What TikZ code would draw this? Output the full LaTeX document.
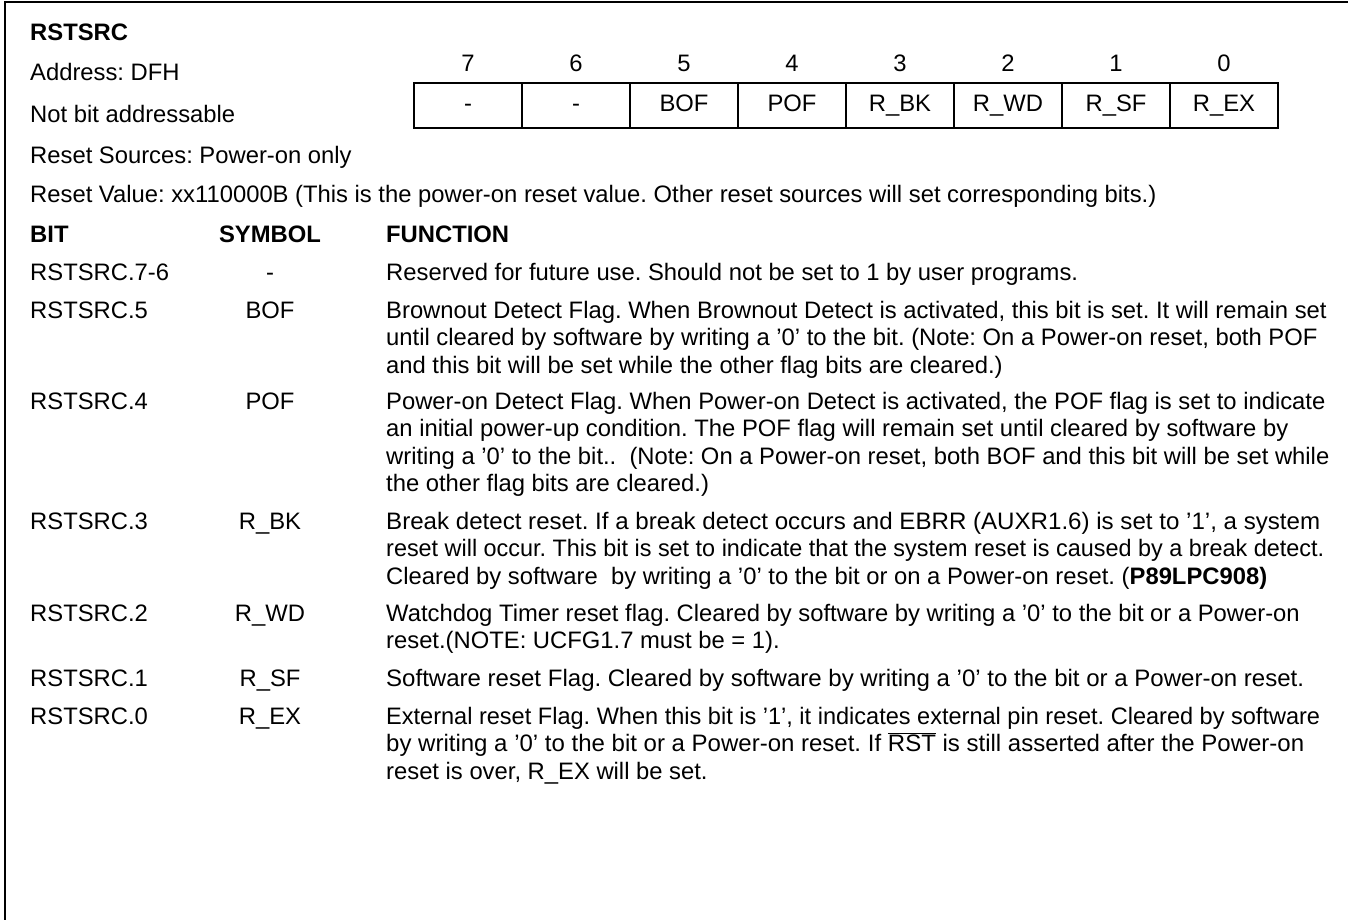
\documentclass[tikz,border=0pt]{standalone}
\usepackage{fontspec}
\usepackage{graphicx}
\setmainfont{Liberation Sans}
\newcommand\rstbar{\ensuremath{\overline{\hbox{RST}}}}
\newsavebox\fitbox
\newcommand\fitto[2]{\sbox\fitbox{#2}\pgfmathsetmacro\fitr{#1/(\wd\fitbox)}\scalebox{\fitr}[1]{\usebox\fitbox}}
\begin{document}
\frenchspacing
\begin{tikzpicture}[x=1pt,y=-1pt,
  txt/.style={anchor=base west,inner sep=0pt,font=\fontsize{23.8}{27.5}\selectfont\frenchspacing},
  sym/.style={anchor=base,inner sep=0pt,font=\fontsize{23.8}{27.5}\selectfont},
  bold/.style={font=\fontsize{23.8}{27.5}\selectfont\bfseries},
  cell/.style={draw,line width=1.6pt,minimum width=108pt,minimum height=45pt,inner sep=0pt,text height=17pt,text depth=5pt,font=\fontsize{23.8}{27.5}\selectfont},
  bitno/.style={inner sep=0pt,text height=17pt,text depth=0pt,font=\fontsize{23.8}{27.5}\selectfont},
  frame/.style={line width=2.5pt}]
\useasboundingbox (0,0) rectangle (1348,920);
\coordinate (ftl) at (5,2);
\coordinate (ftr) at (1348,2);
\coordinate (fbl) at (5,920);
\draw[frame] (ftr) -- (ftl) -- (fbl);
% header
\node[txt,bold] (title) at (30,41) {RSTSRC};
\node[txt] (addr) at (30,81) {Address: DFH};
\node[txt] (nba) at (30,123) {Not bit addressable};
\node[txt] (rsrc) at (30,164) {Reset Sources: Power-on only};
\node[txt] (rval) at (30,203) {Reset Value: xx110000B (This is the power-on reset value. Other reset sources will set corresponding bits.)};
% register
\foreach \i/\lab/\n in {7/-/0,6/-/1,5/BOF/2,4/POF/3,3/R\_BK/4,2/R\_WD/5,1/R\_SF/6,0/R\_EX/7}{
  \node[cell] (c\i) at (468+108*\n,105.5) {\lab};
  \node[bitno] (b\i) at (468+108*\n,63) {\i};
}
% column heads
\node[txt,bold] (hbit) at (30,242) {BIT};
\node[sym,bold] (hsym) at (270,242) {SYMBOL};
\node[txt,bold] (hfun) at (386,242) {FUNCTION};
% rows
\node[txt] (r76) at (30,280) {RSTSRC.7-6};
\node[sym] (s76) at (270,280) {-};
\node[txt] (f76) at (386,280) {Reserved for future use. Should not be set to 1 by user programs.};

\node[txt] (r5) at (30,318) {RSTSRC.5};
\node[sym] (s5) at (270,318) {BOF};
\node[txt] (f5a) at (386,318) {Brownout Detect Flag. When Brownout Detect is activated, this bit is set. It will remain set};
\node[txt] (f5b) at (386,345.5) {until cleared by software by writing a ’0’ to the bit. (Note: On a Power-on reset, both POF};
\node[txt] (f5c) at (386,373) {and this bit will be set while the other flag bits are cleared.)};

\node[txt] (r4) at (30,409) {RSTSRC.4};
\node[sym] (s4) at (270,409) {POF};
\node[txt] (f4a) at (386,409) {Power-on Detect Flag. When Power-on Detect is activated, the POF flag is set to indicate};
\node[txt] (f4b) at (386,436.5) {an initial power-up condition. The POF flag will remain set until cleared by software by};
\node[txt] (f4c) at (386,464) {writing a ’0’ to the bit..\ \ (Note: On a Power-on reset, both BOF and this bit will be set while};
\node[txt] (f4d) at (386,491.5) {the other flag bits are cleared.)};

\node[txt] (r3) at (30,529) {RSTSRC.3};
\node[sym] (s3) at (270,529) {R\_BK};
\node[txt] (f3a) at (386,529) {\fitto{934}{Break detect reset. If a break detect occurs and EBRR (AUXR1.6) is set to ’1’, a system}};
\node[txt] (f3b) at (386,556.5) {\fitto{938}{reset will occur. This bit is set to indicate that the system reset is caused by a break detect.}};
\node[txt] (f3c) at (386,584) {Cleared by software\ \ by writing a ’0’ to the bit or on a Power-on reset. (\textbf{P89LPC908)}};

\node[txt] (r2) at (30,621) {RSTSRC.2};
\node[sym] (s2) at (270,621) {R\_WD};
\node[txt] (f2a) at (386,621) {Watchdog Timer reset flag. Cleared by software by writing a ’0’ to the bit or a Power-on};
\node[txt] (f2b) at (386,648.5) {reset.(NOTE: UCFG1.7 must be = 1).};

\node[txt] (r1) at (30,686) {RSTSRC.1};
\node[sym] (s1) at (270,686) {R\_SF};
\node[txt] (f1a) at (386,686) {\fitto{918}{Software reset Flag. Cleared by software by writing a ’0’ to the bit or a Power-on reset.}};

\node[txt] (r0) at (30,724) {RSTSRC.0};
\node[sym] (s0) at (270,724) {R\_EX};
\node[txt] (f0a) at (386,724) {\fitto{934}{External reset Flag. When this bit is ’1’, it indicates external pin reset. Cleared by software}};
\node[txt] (f0b) at (386,751.5) {\fitto{918}{by writing a ’0’ to the bit or a Power-on reset. If \rstbar\ is still asserted after the Power-on}};
\node[txt] (f0c) at (386,779) {reset is over, R\_EX will be set.};
\end{tikzpicture}
\end{document}
